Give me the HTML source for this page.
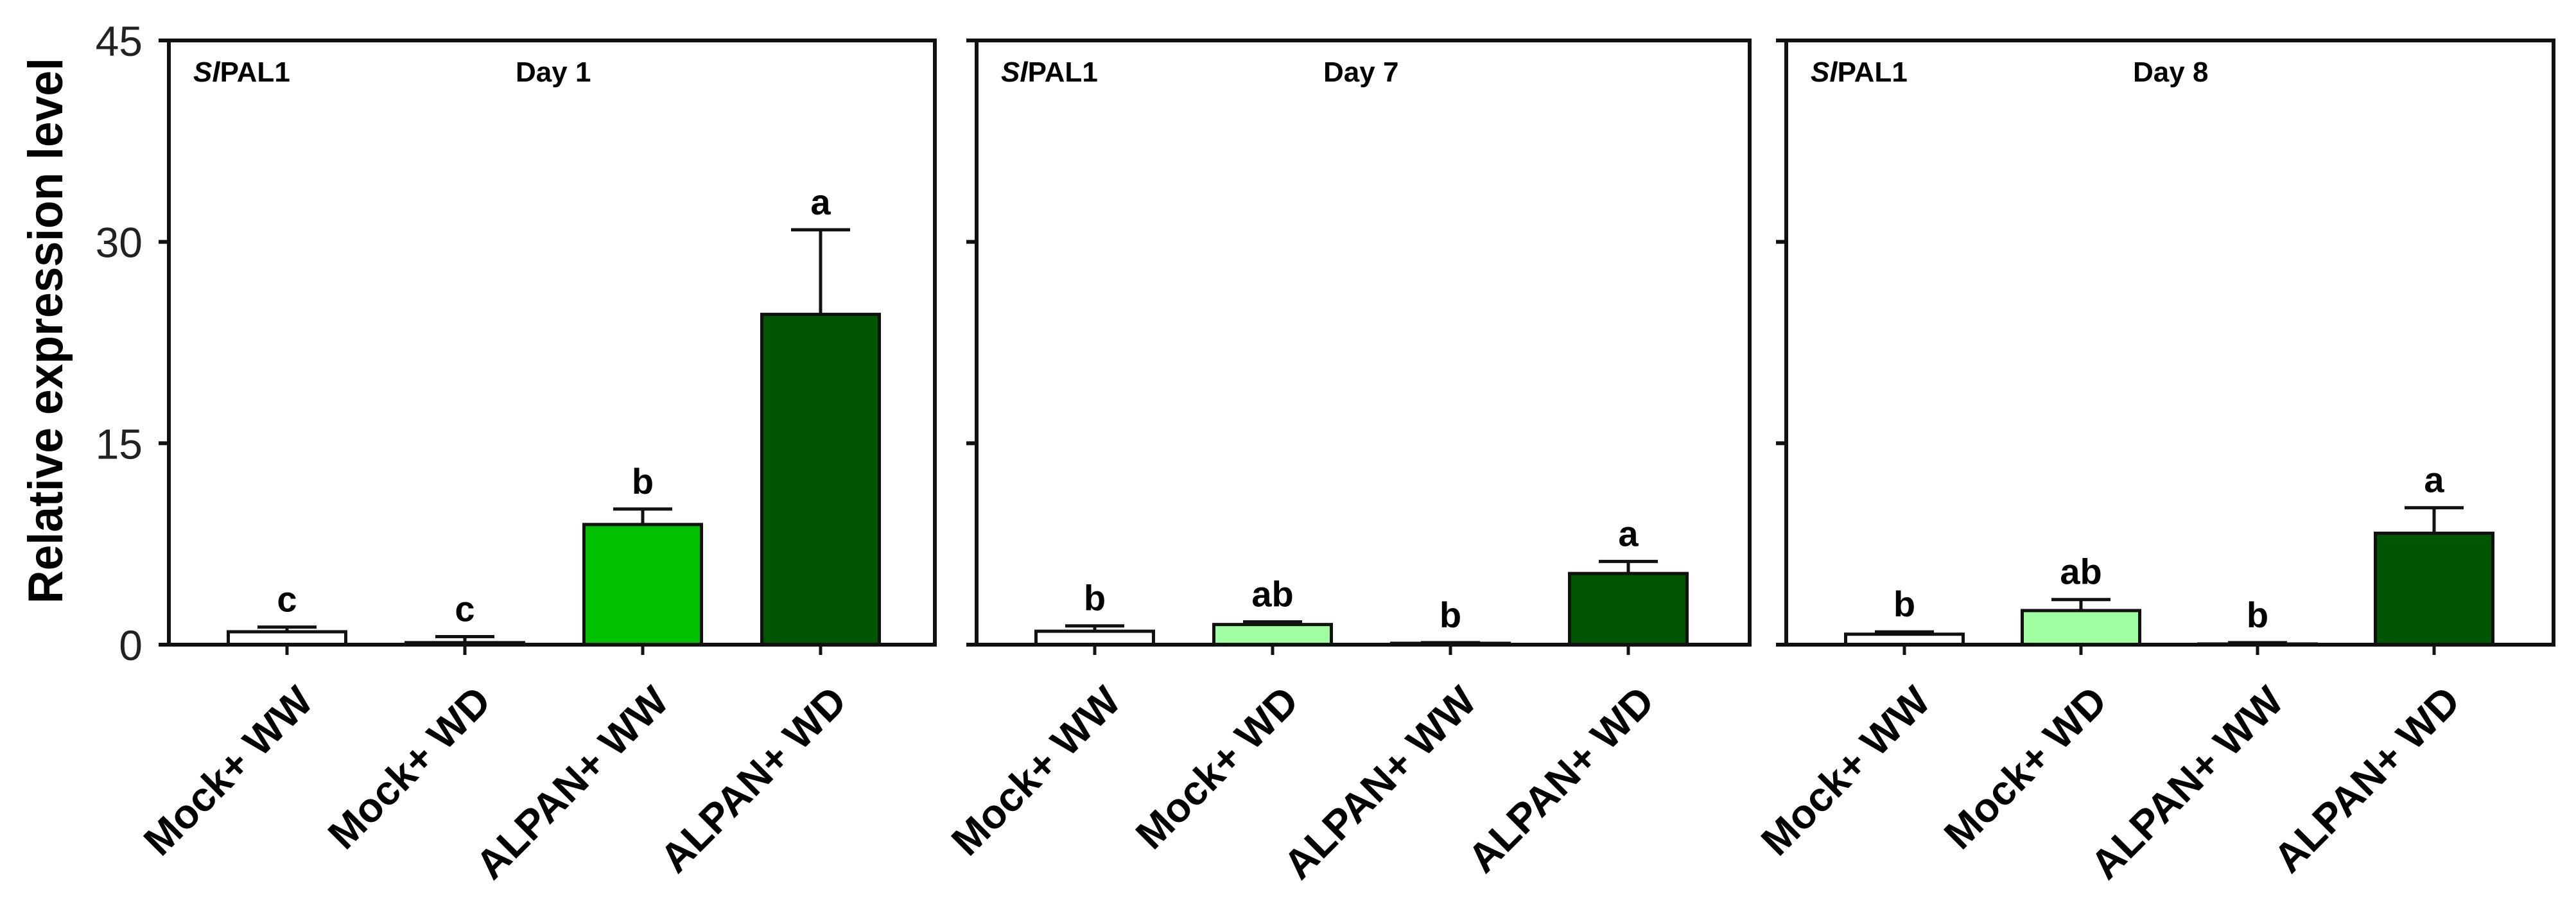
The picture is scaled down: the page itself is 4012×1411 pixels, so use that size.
<!DOCTYPE html>
<html><head><meta charset="utf-8">
<style>
html,body{margin:0;padding:0;background:#fff;}
svg{display:block;}
text{font-family:"Liberation Sans",Arial,sans-serif;}
</style></head>
<body>
<svg id="chart" width="4012" height="1411" viewBox="0 0 4012 1411" xmlns="http://www.w3.org/2000/svg">
<text x="0" y="0" transform="translate(97,515) rotate(-90)" text-anchor="middle" font-size="76" font-weight="bold" fill="#000" textLength="850" lengthAdjust="spacingAndGlyphs">Relative expression level</text>
</svg>
<script>
const categories = ["Mock+ WW", "Mock+ WD", "ALPAN+ WW", "ALPAN+ WD"];
const panelTitles = ["Day 1", "Day 7", "Day 8"];
const day1Values = [0.96, 0.15, 8.95, 24.6];
const day1Errors = [0.35, 0.45, 1.15, 6.3];
const day1Letters = ["c", "c", "b", "a"];
const day7Values = [1.0, 1.5, 0.1, 5.3];
const day7Errors = [0.4, 0.2, 0.05, 0.9];
const day7Letters = ["b", "ab", "b", "a"];
const day8Values = [0.78, 2.54, 0.05, 8.3];
const day8Errors = [0.17, 0.82, 0.1, 1.9];
const day8Letters = ["b", "ab", "b", "a"];
const yTicks = [0, 15, 30, 45];
const yMax = 45;

const svgEl = document.getElementById('chart');
const NS = 'http://www.w3.org/2000/svg';
const colors = ['#ffffff', '#a0ffa0', '#00c000', '#005500'];
const panels = [
  {left: 263, right: 1456, step: 277, vals: day1Values, errs: day1Errors, lets: day1Letters},
  {left: 1521, right: 2725, step: 277, vals: day7Values, errs: day7Errors, lets: day7Letters},
  {left: 2782, right: 3977, step: 275, vals: day8Values, errs: day8Errors, lets: day8Letters}
];
const plotTop = 63, plotZero = 1004;
function yScale(v){ return plotZero - (v / yMax) * (plotZero - plotTop); }

function mk(tag, attrs){
  const e = document.createElementNS(NS, tag);
  for (const k in attrs) e.setAttribute(k, attrs[k]);
  svgEl.appendChild(e);
  return e;
}

panels.forEach((p, pi) => {
  const xC = i => p.left + 184 + i * p.step;
  const bw = 183;
  p.vals.forEach((v, i) => {
    const y = yScale(v);
    const r = mk('rect', {x: xC(i) - bw/2, y: y, width: bw, height: Math.max(plotZero - y, 1), fill: colors[i], stroke: '#111', 'stroke-width': 5});
    
    
    const ey = yScale(v + p.errs[i]);
    const el = mk('path', {d: `M${xC(i)},${y} V${ey} M${xC(i)-46},${ey} H${xC(i)+46}`, stroke: '#111', 'stroke-width': 5, fill: 'none'});
    
    
    const lt = mk('text', {x: xC(i), y: ey - 24, 'text-anchor': 'middle', 'font-size': 56, 'font-weight': 'bold', fill: '#000'});
    lt.textContent = p.lets[i];
    
    
    const tk = mk('line', {x1: xC(i), x2: xC(i), y1: plotZero, y2: plotZero + 16, stroke: '#111', 'stroke-width': 5});
    
    
    const xl = mk('text', {x: 0, y: 0, transform: `translate(${xC(i)+44},${plotZero+92}) rotate(-45)`, 'text-anchor': 'end', 'font-size': 64, 'font-weight': 'bold', fill: '#000'});
    xl.textContent = categories[i];
    
    
  });
  const fr = mk('path', {d: `M${p.left},${plotZero} V${plotTop} H${p.right} V${plotZero} H${p.left - 16}`, fill: 'none', stroke: '#111', 'stroke-width': 6});
  
  
  yTicks.forEach(t => {
    const tl = mk('line', {x1: p.left - 16, x2: p.left, y1: yScale(t), y2: yScale(t), stroke: '#111', 'stroke-width': 6});
    
    
    if (pi === 0) {
      const tt = mk('text', {x: 222, y: yScale(t) + 24, 'text-anchor': 'end', 'font-size': 66, fill: '#222'});
      tt.textContent = t;
      
      
    }
  });
  const g = mk('text', {x: p.left + 38, y: 127, 'font-size': 44, 'font-weight': 'bold', fill: '#000'});
  const it = document.createElementNS(NS, 'tspan');
  it.setAttribute('font-style', 'italic');
  it.textContent = 'Sl';
  g.appendChild(it);
  g.appendChild(document.createTextNode('PAL1'));
  
  
  const d = mk('text', {x: p.left + 540, y: 127, 'font-size': 44, 'font-weight': 'bold', fill: '#000'});
  d.textContent = panelTitles[pi];
  
  
});
</script>
</body></html>
